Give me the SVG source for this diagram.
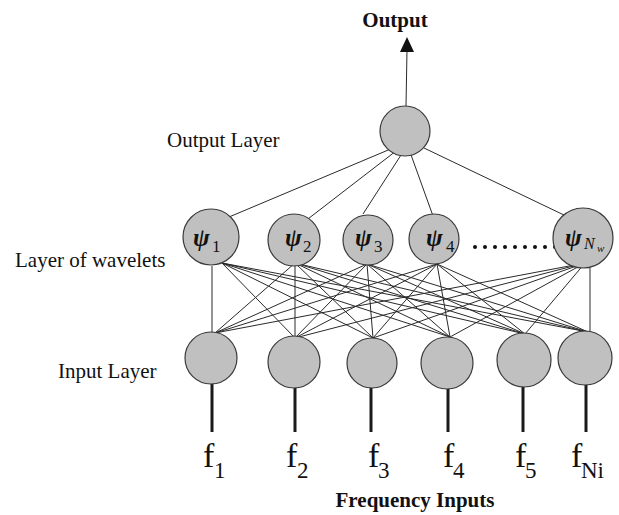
<svg xmlns="http://www.w3.org/2000/svg" width="619" height="515" viewBox="0 0 619 515">
<style>
.node{fill:#c0c0c0;stroke:#3a3a3a;stroke-width:1.2}
.c{stroke:#2a2a2a;stroke-width:1;fill:none}
.in{stroke:#1a1a1a;stroke-width:3;fill:none}
.lbl{font-family:"Liberation Serif",serif;font-size:21px;fill:#111}
.b{font-weight:bold}
.psi{font-family:"Liberation Serif",serif;font-style:italic;font-weight:bold;font-size:25px;fill:#111}
.sub{font-style:normal;font-weight:normal;font-size:17px}
.subi{font-style:italic;font-weight:normal}
.f{font-family:"Liberation Serif",serif;font-size:34px;fill:#111}
.fs{font-size:23px}
</style>
<rect width="619" height="515" fill="#fff"/>
<g id="connectors">
<line class="c" x1="406" y1="106" x2="407" y2="50"/>
<polygon points="407,37 400,52 414,52" fill="#111"/>
<line class="c" x1="393" y1="148" x2="229" y2="217"/>
<line class="c" x1="396" y1="151" x2="304" y2="222"/>
<line class="c" x1="401" y1="155" x2="363" y2="214"/>
<line class="c" x1="410" y1="152" x2="433" y2="216"/>
<line class="c" x1="424" y1="148" x2="566" y2="216"/>
<line class="c" x1="212" y1="266" x2="212" y2="332"/>
<line class="c" x1="590" y1="268" x2="590" y2="331"/>
<g id="w1-links">
<line class="c" x1="222" y1="263" x2="295" y2="338"/>
<line class="c" x1="222" y1="263" x2="373" y2="338"/>
<line class="c" x1="222" y1="263" x2="450" y2="337"/>
<line class="c" x1="222" y1="263" x2="525" y2="334"/>
<line class="c" x1="222" y1="263" x2="588" y2="332"/>
</g>
<g id="w2-links">
<line class="c" x1="295" y1="263" x2="215" y2="333"/>
<line class="c" x1="295" y1="263" x2="295" y2="338"/>
<line class="c" x1="295" y1="263" x2="373" y2="338"/>
<line class="c" x1="295" y1="263" x2="450" y2="337"/>
<line class="c" x1="295" y1="263" x2="525" y2="334"/>
<line class="c" x1="295" y1="263" x2="588" y2="332"/>
</g>
<g id="w3-links">
<line class="c" x1="367" y1="264" x2="215" y2="333"/>
<line class="c" x1="367" y1="264" x2="295" y2="338"/>
<line class="c" x1="367" y1="264" x2="373" y2="338"/>
<line class="c" x1="367" y1="264" x2="450" y2="337"/>
<line class="c" x1="367" y1="264" x2="525" y2="334"/>
<line class="c" x1="367" y1="264" x2="588" y2="332"/>
</g>
<g id="w4-links">
<line class="c" x1="437" y1="264" x2="215" y2="333"/>
<line class="c" x1="437" y1="264" x2="295" y2="338"/>
<line class="c" x1="437" y1="264" x2="373" y2="338"/>
<line class="c" x1="437" y1="264" x2="450" y2="337"/>
<line class="c" x1="437" y1="264" x2="525" y2="334"/>
<line class="c" x1="437" y1="264" x2="588" y2="332"/>
</g>
<g id="wn-links">
<line class="c" x1="585" y1="263" x2="215" y2="333"/>
<line class="c" x1="585" y1="263" x2="295" y2="338"/>
<line class="c" x1="585" y1="263" x2="373" y2="338"/>
<line class="c" x1="585" y1="263" x2="450" y2="337"/>
<line class="c" x1="585" y1="263" x2="525" y2="334"/>
</g>
<line class="in" x1="212" y1="383" x2="212" y2="432"/>
<line class="in" x1="295" y1="387" x2="295" y2="432"/>
<line class="in" x1="371" y1="387" x2="371" y2="432"/>
<line class="in" x1="448" y1="388" x2="448" y2="432"/>
<line class="in" x1="523" y1="386" x2="523" y2="432"/>
<line class="in" x1="586" y1="384" x2="586" y2="432"/>
</g>
<g id="output-node"><circle class="node" cx="405" cy="131" r="25"/></g>
<g id="w1"><circle class="node" cx="211" cy="237" r="28"/><text class="psi" x="193" y="246">ψ<tspan class="sub" x="212" y="252">1</tspan></text></g>
<g id="w2"><circle class="node" cx="294" cy="240" r="26"/><text class="psi" x="285" y="246">ψ<tspan class="sub" x="303" y="252">2</tspan></text></g>
<g id="w3"><circle class="node" cx="368" cy="240" r="25"/><text class="psi" x="355" y="246">ψ<tspan class="sub" x="374" y="252">3</tspan></text></g>
<g id="w4"><circle class="node" cx="434" cy="239" r="25"/><text class="psi" x="426" y="246">ψ<tspan class="sub" x="446" y="252">4</tspan></text></g>
<g id="dots" fill="#111">
<circle cx="475" cy="247" r="2"/><circle cx="485" cy="247" r="2"/><circle cx="495" cy="247" r="2"/><circle cx="505" cy="247" r="2"/><circle cx="515" cy="247" r="2"/><circle cx="525" cy="247" r="2"/><circle cx="535" cy="247" r="2"/><circle cx="545" cy="247" r="2"/><circle cx="555" cy="247" r="2"/>
</g>
<g id="wn"><circle class="node" cx="583" cy="238" r="30"/><text class="psi" x="565" y="246">ψ<tspan class="subi" font-size="16" x="584" y="249">N</tspan><tspan class="subi" font-size="11" x="597" y="252">w</tspan></text></g>
<g id="i1"><circle class="node" cx="211" cy="358" r="26"/></g>
<g id="i2"><circle class="node" cx="294" cy="362" r="26"/></g>
<g id="i3"><circle class="node" cx="372" cy="363" r="25"/></g>
<g id="i4"><circle class="node" cx="447" cy="363" r="26"/></g>
<g id="i5"><circle class="node" cx="524" cy="360" r="27"/></g>
<g id="i6"><circle class="node" cx="585" cy="358" r="27"/></g>
<g id="labels">
<text class="lbl b" x="395" y="27" text-anchor="middle">Output</text>
<text class="lbl" x="167" y="147">Output Layer</text>
<text class="lbl" x="15" y="267">Layer of wavelets</text>
<text class="lbl" x="58" y="378">Input Layer</text>
<text class="lbl b" x="415" y="507" text-anchor="middle">Frequency Inputs</text>
<text class="f" x="203" y="467">f<tspan class="fs" x="214" y="478">1</tspan></text>
<text class="f" x="286" y="467">f<tspan class="fs" x="297" y="478">2</tspan></text>
<text class="f" x="368" y="467">f<tspan class="fs" x="378" y="478">3</tspan></text>
<text class="f" x="443" y="467">f<tspan class="fs" x="453" y="478">4</tspan></text>
<text class="f" x="515" y="467">f<tspan class="fs" x="525" y="478">5</tspan></text>
<text class="f" x="571" y="467">f<tspan class="fs" x="581" y="478">Ni</tspan></text>
</g>
</svg>
